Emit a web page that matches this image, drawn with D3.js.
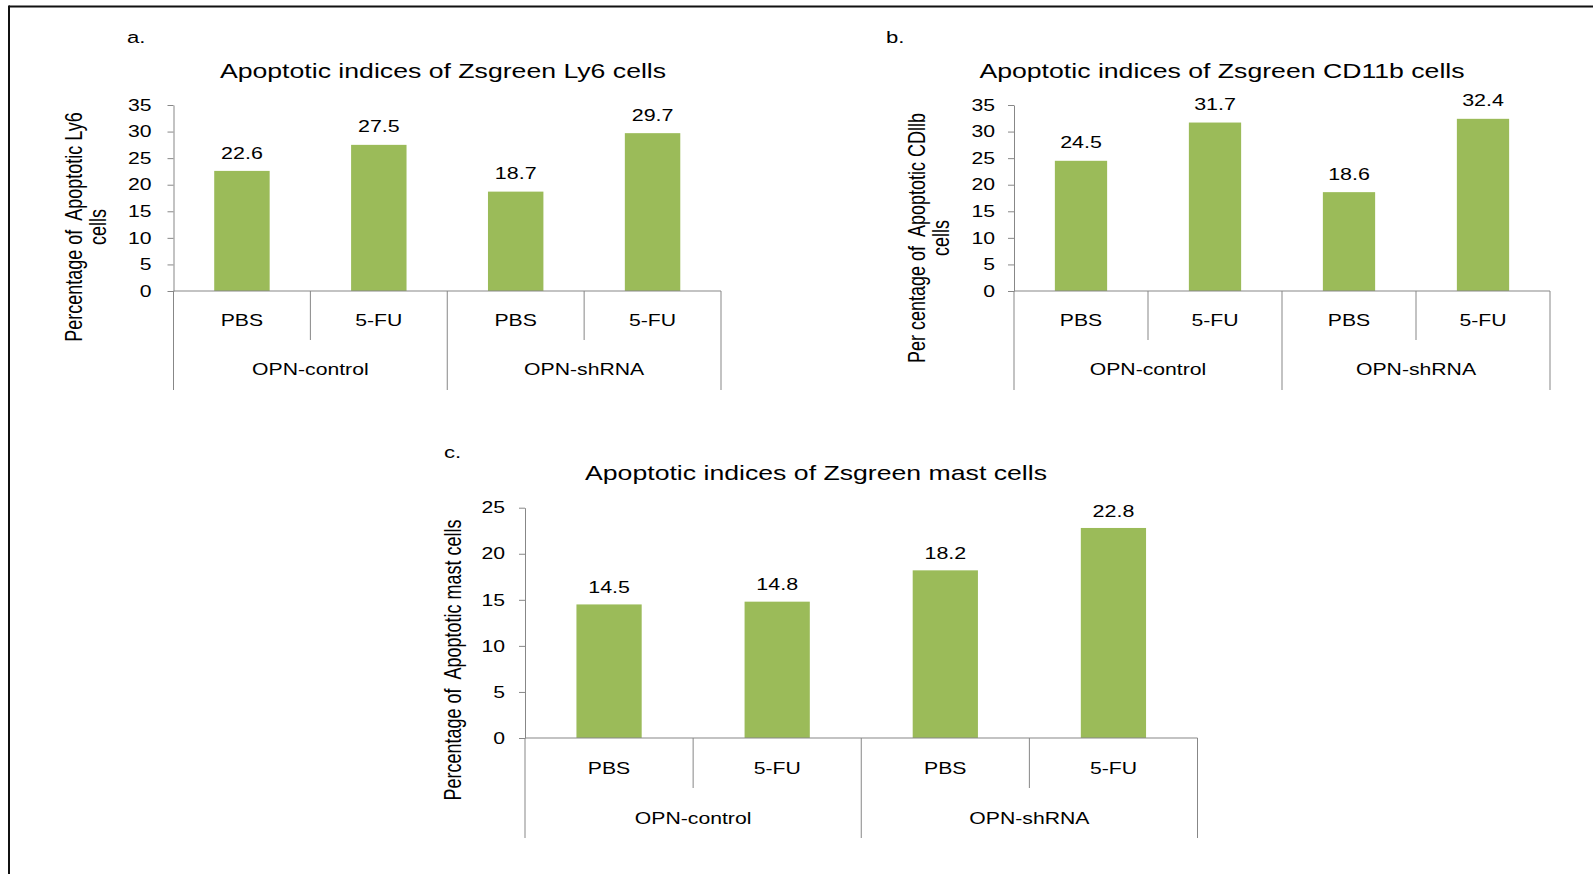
<!DOCTYPE html>
<html>
<head>
<meta charset="utf-8">
<script src="https://cdn.jsdelivr.net/npm/d3@7"></script>
<style>
  html, body { margin: 0; padding: 0; background: #fff; }
  svg { display: block; font-family: "Liberation Sans", Arial, sans-serif; }
  text { white-space: pre; fill: #000; }
</style>
</head>
<body>
<script>
// ---------------- data ----------------
const treatments = ["PBS", "5-FU", "PBS", "5-FU"];
const groups = ["OPN-control", "OPN-shRNA"];
const ly6Values = [22.6, 27.5, 18.7, 29.7];
const cd11bValues = [24.5, 31.7, 18.6, 32.4];
const mastValues = [14.5, 14.8, 18.2, 22.8];
const ticksLy6 = [0, 5, 10, 15, 20, 25, 30, 35];
const ticksCd11b = [0, 5, 10, 15, 20, 25, 30, 35];
const ticksMast = [0, 5, 10, 15, 20, 25];
const titles = [
  "Apoptotic indices of Zsgreen Ly6 cells",
  "Apoptotic indices of Zsgreen CD11b cells",
  "Apoptotic indices of Zsgreen mast cells"
];
const panelLetters = ["a.", "b.", "c."];
const yLabels = [
  ["Percentage of  Apoptotic Ly6", "cells"],
  ["Per centage of  Apoptotic CDllb", "cells"],
  ["Percentage of  Apoptotic mast cells"]
];

// ---------------- layout ----------------
const W = 1593, H = 874;
const SX = 1.3;              // horizontal stretch of the original figure
const GREEN = "#9bbb59";
const AXIS = "#878787";

const layouts = [
  { values: ly6Values, ticks: ticksLy6, x0: 173.5, x1: 721, zeroY: 291, topY: 105, barFrac: 0.405,
    tickGap: 22, innerBottom: 340, outerBottom: 390, catY: 320.5, grpY: 369,
    titleX: 443, titleY: 78, letterX: 127, letterY: 43, yLabX: [74, 98], yLabY: 227, valOff: 18 },
  { values: cd11bValues, ticks: ticksCd11b, x0: 1014, x1: 1550, zeroY: 291, topY: 105, barFrac: 0.39,
    tickGap: 19, innerBottom: 340, outerBottom: 390, catY: 320.5, grpY: 369,
    titleX: 1222, titleY: 77.5, letterX: 886, letterY: 43, yLabX: [917, 941], yLabY: 238, valOff: 18 },
  { values: mastValues, ticks: ticksMast, x0: 525, x1: 1197.5, zeroY: 738, topY: 507.7, barFrac: 0.388,
    tickGap: 20, innerBottom: 788, outerBottom: 838, catY: 768, grpY: 818,
    titleX: 816, titleY: 480, letterX: 444, letterY: 458, yLabX: [453], yLabY: 660, valOff: 17 }
];

const svg = d3.select("body").append("svg").attr("width", W).attr("height", H);

// outer frame (top and left edges visible)
svg.append("line").attr("x1", 9).attr("x2", W).attr("y1", 6.5).attr("y2", 6.5)
  .attr("stroke", "#111").attr("stroke-width", 2);
svg.append("line").attr("x1", 9).attr("x2", 9).attr("y1", 5.5).attr("y2", H)
  .attr("stroke", "#111").attr("stroke-width", 2);

function sText(g, x, y, str, size, opt = {}) {
  return g.append("text")
    .attr("transform", `translate(${x},${y}) scale(${SX},1)` + (opt.rotate ? " rotate(-90)" : ""))
    .attr("text-anchor", opt.anchor || "middle")
    .attr("dominant-baseline", opt.baseline || "auto")
    .style("font-size", size + "px")
    .text(str);
}

layouts.forEach((L, pi) => {
  const g = svg.append("g");
  const y = d3.scaleLinear().domain([0, d3.max(L.ticks)]).range([L.zeroY, L.topY]);
  const x = d3.scaleBand().domain(d3.range(treatments.length)).range([L.x0, L.x1]).padding(0);
  const xg = d3.scaleBand().domain(groups).range([L.x0, L.x1]).padding(0);
  const bw = x.bandwidth();
  const barW = bw * L.barFrac;

  // bars
  g.selectAll("rect.bar").data(L.values).join("rect")
    .attr("class", "bar")
    .attr("x", (d, i) => x(i) + (bw - barW) / 2)
    .attr("width", barW)
    .attr("y", d => y(d))
    .attr("height", d => y(0) - y(d))
    .attr("fill", GREEN);

  // y axis
  const ya = g.append("g").attr("transform", `translate(${L.x0},0)`)
    .call(d3.axisLeft(y).tickValues(L.ticks).tickSize(6).tickSizeOuter(0));
  ya.attr("font-size", null).attr("font-family", null);
  ya.select(".domain").attr("stroke", AXIS);
  ya.selectAll(".tick line").attr("stroke", AXIS);
  ya.selectAll(".tick text")
    .attr("x", -L.tickGap / SX)
    .attr("transform", `scale(${SX},1)`)
    .style("font-size", "16.3px")
    .attr("fill", "#000");

  // x axis baseline
  g.append("line").attr("x1", L.x0).attr("x2", L.x1).attr("y1", y(0)).attr("y2", y(0))
    .attr("stroke", AXIS);

  // separators
  d3.range(treatments.length + 1).forEach(i => {
    const xp = i < treatments.length ? x(i) : L.x1;
    const bottom = i % 2 === 0 ? L.outerBottom : L.innerBottom;
    g.append("line").attr("x1", xp).attr("x2", xp).attr("y1", y(0)).attr("y2", bottom)
      .attr("stroke", AXIS);
  });

  // category labels
  treatments.forEach((t, i) => {
    sText(g, x(i) + bw / 2, L.catY, t, 16.3, { baseline: "central" });
  });
  groups.forEach(gr => {
    sText(g, xg(gr) + xg.bandwidth() / 2, L.grpY, gr, 16.3, { baseline: "central" });
  });

  // value labels
  L.values.forEach((v, i) => {
    sText(g, x(i) + bw / 2, y(v) - L.valOff, d3.format(".1f")(v), 16.5, { baseline: "central" });
  });

  // title and letter
  sText(g, L.titleX, L.titleY, titles[pi], 20.5);
  sText(g, L.letterX, L.letterY, panelLetters[pi], 17, { anchor: "start" });

  // y label
  yLabels[pi].forEach((line, li) => {
    sText(g, L.yLabX[li], L.yLabY, line, 18, { rotate: true, baseline: "central" });
  });
});
</script>
</body>
</html>
